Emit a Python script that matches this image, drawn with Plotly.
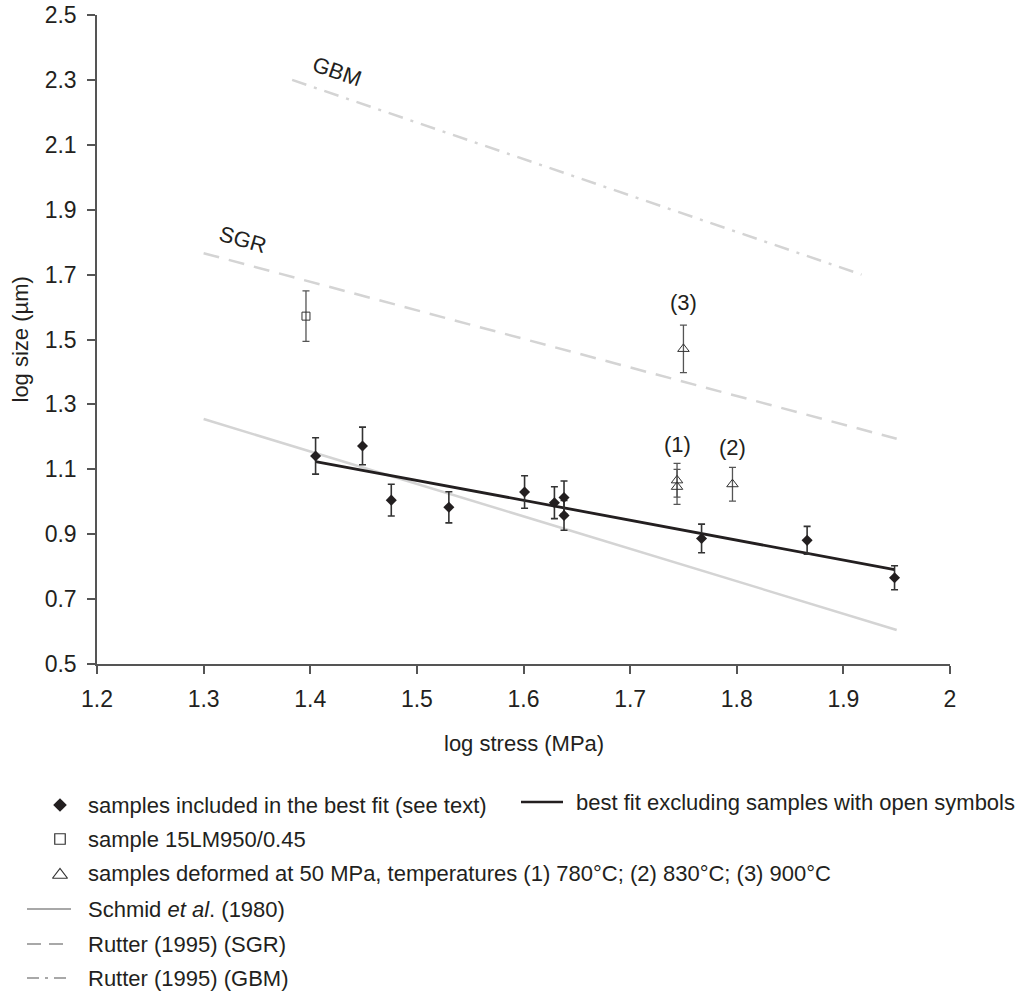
import plotly.graph_objects as go

W, H = 1032, 992

# ---------------- data ----------------
fit_x = [1.405, 1.449, 1.476, 1.530, 1.601, 1.629, 1.638, 1.638, 1.767, 1.866, 1.948]
fit_y = [1.141, 1.172, 1.005, 0.983, 1.030, 0.997, 1.013, 0.958, 0.887, 0.881, 0.766]
fit_err = [0.056, 0.058, 0.049, 0.048, 0.050, 0.049, 0.051, 0.046, 0.044, 0.043, 0.037]

sq_x = [1.396]
sq_y = [1.572]
sq_err = [0.078]

tri_x = [1.744, 1.744, 1.796, 1.750]
tri_y = [1.066, 1.046, 1.054, 1.471]
tri_err = [0.052, 0.054, 0.052, 0.073]

tri_labels = ["(1)", "(2)", "(3)"]
tri_label_x = [1.744, 1.796, 1.750]
tri_label_y = [1.177, 1.167, 1.614]

best_fit_x = [1.405, 1.948]
best_fit_y = [1.124, 0.791]
schmid_x = [1.30, 1.95]
schmid_y = [1.255, 0.605]
sgr_x = [1.30, 1.95]
sgr_y = [1.766, 1.194]
gbm_x = [1.383, 1.917]
gbm_y = [2.300, 1.700]

x_ticks = [1.2, 1.3, 1.4, 1.5, 1.6, 1.7, 1.8, 1.9, 2.0]
x_ticktext = ["1.2", "1.3", "1.4", "1.5", "1.6", "1.7", "1.8", "1.9", "2"]
y_ticks = [0.5, 0.7, 0.9, 1.1, 1.3, 1.5, 1.7, 1.9, 2.1, 2.3, 2.5]
y_ticktext = ["0.5", "0.7", "0.9", "1.1", "1.3", "1.5", "1.7", "1.9", "2.1", "2.3", "2.5"]

legend_texts = [
    "samples included in the best fit (see text)",
    "best fit excluding samples with open symbols",
    "sample 15LM950/0.45",
    "samples deformed at 50 MPa, temperatures (1) 780°C; (2) 830°C; (3) 900°C",
    "Schmid <i>et al</i>. (1980)",
    "Rutter (1995) (SGR)",
    "Rutter (1995) (GBM)",
]

# ---------------- style ----------------
FONT = "Arial, 'Liberation Sans', sans-serif"
TXT = "#231f20"
AX = "#555555"
FS = 22
TFS = 23
LIGHT = "#d4d4d4"
LEG_GRAY = "#a8a8a8"

# plot area in pixels
PL, PR, PT, PB = 97, 950, 15, 664

fig = go.Figure()

# reference lines
fig.add_trace(go.Scatter(x=schmid_x, y=schmid_y, mode="lines",
                         line=dict(color=LIGHT, width=2.5), showlegend=False))
fig.add_trace(go.Scatter(x=sgr_x, y=sgr_y, mode="lines",
                         line=dict(color=LIGHT, width=2.5, dash="16px,10px"), showlegend=False))
fig.add_trace(go.Scatter(x=gbm_x, y=gbm_y, mode="lines",
                         line=dict(color=LIGHT, width=2.5, dash="15px,8px,3px,8px"), showlegend=False))
fig.add_trace(go.Scatter(x=best_fit_x, y=best_fit_y, mode="lines",
                         line=dict(color=TXT, width=2.8), showlegend=False))

# data points
fig.add_trace(go.Scatter(x=fit_x, y=fit_y, mode="markers",
                         marker=dict(symbol="diamond", size=8.5, color=TXT, line=dict(width=0)),
                         error_y=dict(type="data", array=fit_err, color="#333333", thickness=1.6, width=3.5),
                         showlegend=False))
fig.add_trace(go.Scatter(x=sq_x, y=sq_y, mode="markers",
                         marker=dict(symbol="square-open", size=8, color="#333333", line=dict(width=1)),
                         error_y=dict(type="data", array=sq_err, color="#555555", thickness=1.3, width=3.5),
                         showlegend=False))
fig.add_trace(go.Scatter(x=tri_x, y=tri_y, mode="markers",
                         marker=dict(symbol="triangle-up-open", size=10, color="#333333", line=dict(width=1)),
                         error_y=dict(type="data", array=tri_err, color="#555555", thickness=1.3, width=3.5),
                         showlegend=False))

annotations = []
for t, xx, yy in zip(tri_labels, tri_label_x, tri_label_y):
    annotations.append(dict(x=xx, y=yy, xref="x", yref="y", text=t, showarrow=False,
                            font=dict(family=FONT, size=FS, color=TXT)))
annotations.append(dict(x=1.425, y=2.326, xref="x", yref="y", text="GBM", showarrow=False,
                        textangle=19, font=dict(family=FONT, size=FS, color=TXT)))
annotations.append(dict(x=1.3365, y=1.808, xref="x", yref="y", text="SGR", showarrow=False,
                        textangle=16, font=dict(family=FONT, size=FS, color=TXT)))

# axis titles
annotations.append(dict(x=(PL + PR) / 2, y=743, xref="x2", yref="y2", text="log stress (MPa)",
                        showarrow=False, font=dict(family=FONT, size=FS, color=TXT)))
annotations.append(dict(x=20, y=(PT + PB) / 2, xref="x2", yref="y2", text="log size (µm)",
                        textangle=-90, showarrow=False, font=dict(family=FONT, size=FS, color=TXT)))

# ---------------- legend (pixel overlay axes) ----------------
rows_y = [805, 839, 873, 909, 944, 978]
TX = 87
fig.add_trace(go.Scatter(x=[60], y=[rows_y[0]], xaxis="x2", yaxis="y2", mode="markers",
                         marker=dict(symbol="diamond", size=10.5, color=TXT, line=dict(width=0)),
                         showlegend=False))
fig.add_trace(go.Scatter(x=[60], y=[rows_y[1]], xaxis="x2", yaxis="y2", mode="markers",
                         marker=dict(symbol="square-open", size=10.5, color="#333333", line=dict(width=1.2)),
                         showlegend=False))
fig.add_trace(go.Scatter(x=[60], y=[rows_y[2] + 2], xaxis="x2", yaxis="y2", mode="markers",
                         marker=dict(symbol="triangle-up-open", size=13, color="#333333", line=dict(width=1.2)),
                         showlegend=False))
fig.add_trace(go.Scatter(x=[521, 563], y=[rows_y[0] - 3, rows_y[0] - 3], xaxis="x2", yaxis="y2",
                         mode="lines", line=dict(color=TXT, width=2.5), showlegend=False))
fig.add_trace(go.Scatter(x=[27, 71], y=[rows_y[3], rows_y[3]], xaxis="x2", yaxis="y2",
                         mode="lines", line=dict(color=LEG_GRAY, width=2), showlegend=False))
fig.add_trace(go.Scatter(x=[27, 71], y=[rows_y[4], rows_y[4]], xaxis="x2", yaxis="y2",
                         mode="lines", line=dict(color=LEG_GRAY, width=2, dash="14px,8px"), showlegend=False))
fig.add_trace(go.Scatter(x=[27, 71], y=[rows_y[5], rows_y[5]], xaxis="x2", yaxis="y2",
                         mode="lines", line=dict(color=LEG_GRAY, width=2, dash="12px,6px,3px,6px"), showlegend=False))

leg_pos = [(TX, rows_y[0]), (575, rows_y[0] - 3), (TX, rows_y[1]), (TX, rows_y[2]),
           (TX, rows_y[3]), (TX, rows_y[4]), (TX, rows_y[5])]
for t, (px, py) in zip(legend_texts, leg_pos):
    annotations.append(dict(x=px, y=py, xref="x2", yref="y2", text=t, showarrow=False,
                            xanchor="left", yanchor="middle", borderpad=0,
                            font=dict(family=FONT, size=FS, color=TXT)))

fig.update_layout(
    template="none",
    width=W, height=H,
    margin=dict(l=0, r=0, t=0, b=0, pad=0),
    paper_bgcolor="white", plot_bgcolor="rgba(0,0,0,0)",
    showlegend=False,
    annotations=annotations,
    xaxis=dict(domain=[PL / W, PR / W], range=[1.2, 2.0], tickvals=x_ticks, ticktext=x_ticktext,
               showgrid=False, zeroline=False, showline=True, linecolor=AX, linewidth=1.5,
               ticks="outside", ticklen=8, tickwidth=1.5, tickcolor=AX, anchor="y", automargin=False,
               ticklabelstandoff=6,
               tickfont=dict(family=FONT, size=TFS, color=TXT)),
    yaxis=dict(domain=[1 - PB / H, 1 - PT / H], range=[0.5, 2.5], tickvals=y_ticks, ticktext=y_ticktext,
               showgrid=False, zeroline=False, showline=True, linecolor=AX, linewidth=1.5,
               ticks="outside", ticklen=8, tickwidth=1.5, tickcolor=AX, anchor="x", automargin=False,
               ticklabelstandoff=6,
               tickfont=dict(family=FONT, size=TFS, color=TXT)),
    xaxis2=dict(domain=[0, 1], range=[0, W], visible=False, anchor="y2", automargin=False),
    yaxis2=dict(domain=[0, 1], range=[H, 0], visible=False, anchor="x2", automargin=False),
)

fig.write_html("out.html")
